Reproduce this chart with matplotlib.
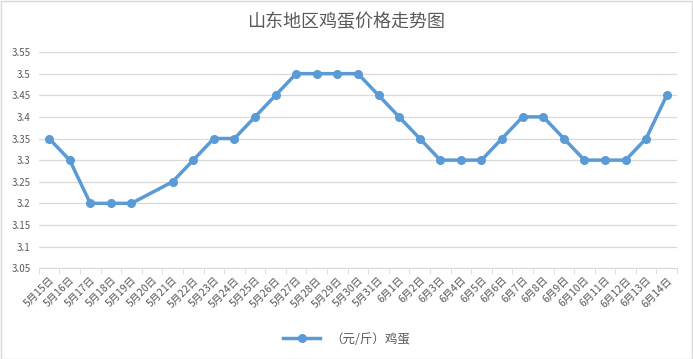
import numpy as np
import matplotlib.pyplot as plt

plt.rcParams['font.family'] = ['Noto Sans CJK SC', 'DejaVu Sans']

# 数据
dates = ['5月15日', '5月16日', '5月17日', '5月18日', '5月19日', '5月20日', '5月21日',
         '5月22日', '5月23日', '5月24日', '5月25日', '5月26日', '5月27日', '5月28日',
         '5月29日', '5月30日', '5月31日', '6月1日', '6月2日', '6月3日', '6月4日',
         '6月5日', '6月6日', '6月7日', '6月8日', '6月9日', '6月10日', '6月11日',
         '6月12日', '6月13日', '6月14日']
price = [3.35, 3.30, 3.20, 3.20, 3.20, np.nan, 3.25,
         3.30, 3.35, 3.35, 3.40, 3.45, 3.50, 3.50,
         3.50, 3.50, 3.45, 3.40, 3.35, 3.30, 3.30,
         3.30, 3.35, 3.40, 3.40, 3.35, 3.30, 3.30,
         3.30, 3.35, 3.45]
yticks = [3.05, 3.1, 3.15, 3.2, 3.25, 3.3, 3.35, 3.4, 3.45, 3.5, 3.55]
ytick_labels = ['3.05', '3.1', '3.15', '3.2', '3.25', '3.3', '3.35', '3.4', '3.45', '3.5', '3.55']

BLUE = '#5B9BD5'
GRAY = '#595959'

fig = plt.figure(figsize=(6.93, 3.59), dpi=100)
ax = fig.add_axes([0.056, 0.253, 0.921, 0.602])

x = np.arange(len(dates))
p = np.array(price)
ok = ~np.isnan(p)
ax.plot(x[ok], p[ok], color=BLUE, lw=2.5, marker='o', ms=5.5, label='（元/斤）鸡蛋')

ax.set_xlim(-0.5, len(dates) - 0.5)
ax.set_ylim(3.05, 3.55)
ax.set_yticks(yticks)
ax.set_yticklabels(ytick_labels, fontsize=7, color=GRAY)
ax.set_xticks(x)
ax.set_xticklabels(dates, rotation=45, ha='right', rotation_mode='anchor', fontsize=7.5, color=GRAY)
ax.set_xticks(np.arange(len(dates) + 1) - 0.5, minor=True)
ax.tick_params(axis='x', which='major', length=0, pad=5)
ax.tick_params(axis='x', which='minor', length=4, color='#D9D9D9')
ax.tick_params(axis='y', length=0, pad=6)
ax.grid(axis='y', color='#D9D9D9', lw=0.9)
for s in ['top', 'right', 'left']:
    ax.spines[s].set_visible(False)
ax.spines['bottom'].set_color('#D9D9D9')
ax.set_axisbelow(True)

fig.text(0.5, 0.94, '山东地区鸡蛋价格走势图', ha='center', va='center', fontsize=13, color=GRAY)
fig.legend(loc='center', bbox_to_anchor=(0.5, 0.055), frameon=False, fontsize=9,
           labelcolor=GRAY, handlelength=3)

fig.patches.append(plt.Rectangle((0.001, 0.001), 0.997, 0.997, transform=fig.transFigure,
                                 fill=False, edgecolor='#D9D9D9', lw=1))

fig.savefig('out.png', dpi=100)
